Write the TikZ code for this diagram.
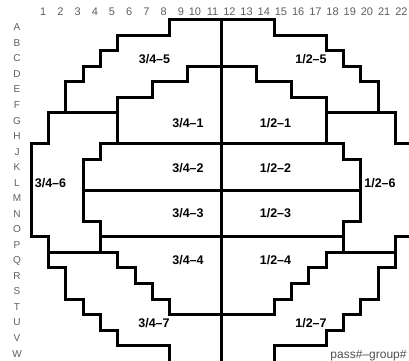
\documentclass[tikz,border=0pt]{standalone}
\usepackage{fontspec}
\setmainfont{Liberation Sans}
\definecolor{lbl}{RGB}{95,95,95}
\definecolor{note}{RGB}{80,80,80}
\begin{document}
\begin{tikzpicture}[x=1pt,y=-1pt,
  wall/.style={line width=3pt, line join=miter, line cap=rect},
  zone/.style={font=\fontsize{12.5}{14}\selectfont\bfseries, inner sep=0pt, anchor=base},
  collbl/.style={font=\fontsize{11}{13}\selectfont, text=lbl, inner sep=0pt, anchor=base east},
  rowlbl/.style={font=\fontsize{10}{12}\selectfont, text=lbl, inner sep=0pt, anchor=base},
  notelbl/.style={font=\fontsize{12}{13}\selectfont, text=note, inner sep=0pt, anchor=base}
]
\useasboundingbox (0,0) rectangle (409,360);
\clip (0,0) rectangle (409,360);
\fill[white] (0,0) rectangle (409,360);

% column labels
\foreach \c in {1,...,22}
  \node[collbl] (col\c) at ({46.5+17.2*(\c-1)},15.8) {\c};
% row labels
\foreach \r [count=\i from 0] in {A,B,C,D,E,F,G,H,J,K,L,M,N,O,P,Q,R,S,T,U,V,W}
  \node[rowlbl] (row\r) at (17,{19.5+15.53*(\i+0.5)+3.6}) {\r};

% walls in grid units
\begin{scope}[shift={(31,19.5)}, x=17.36pt, y=-15.53pt]
  % outer top staircase
  \draw[wall] (2,6) -- (2,4) -- (3,4) -- (3,3) -- (4,3) -- (4,2) -- (5,2) -- (5,1) -- (8,1) -- (8,0)
    -- (14,0) -- (14,1) -- (17,1) -- (17,2) -- (18,2) -- (18,3) -- (19,3) -- (19,4) -- (20,4) -- (20,6);
  \draw[wall] (1,6) -- (5,6);
  \draw[wall] (17,6) -- (21,6);
  % top of zone 1
  \draw[wall] (5,8) -- (5,5) -- (7,5) -- (7,4) -- (9,4) -- (9,3) -- (13,3) -- (13,4) -- (15,4) -- (15,5) -- (17,5) -- (17,8);
  % left outer boundary
  \draw[wall] (1,6) -- (1,8) -- (0,8) -- (0,14) -- (1,14) -- (1,16) -- (2,16) -- (2,18) -- (3,18) -- (3,19)
    -- (4,19) -- (4,20) -- (5,20) -- (5,21) -- (8,21) -- (8,23);
  % right outer boundary
  \draw[wall] (21,6) -- (21,8) -- (22.5,8) -- (22.5,14) -- (21,14) -- (21,16) -- (20,16) -- (20,18) -- (19,18) -- (19,19)
    -- (18,19) -- (18,20) -- (17,20) -- (17,21) -- (14,21) -- (14,23);
  % middle band
  \draw[wall] (4,15) -- (4,13) -- (3,13) -- (3,9) -- (4,9) -- (4,8) -- (18,8) -- (18,9) -- (19,9) -- (19,13) -- (18,13) -- (18,15);
  \draw[wall] (3,11) -- (19,11);
  \draw[wall] (4,14) -- (18,14);
  % bottom of zone 4
  \draw[wall] (1,15) -- (5,15) -- (5,16) -- (6,16) -- (6,17) -- (7,17) -- (7,18) -- (8,18) -- (8,19)
    -- (14,19) -- (14,18) -- (15,18) -- (15,17) -- (16,17) -- (16,16) -- (17,16) -- (17,15) -- (21,15);
  % centre line
  \draw[wall] (11,0) -- (11,23);
\end{scope}

% zone labels
\node[zone] (z35) at (154.5,63.5) {3/4\textendash5};
\node[zone] (z25) at (311,63.5) {1/2\textendash5};
\node[zone] (z31) at (188,127.2) {3/4\textendash1};
\node[zone] (z21) at (275.5,127.2) {1/2\textendash1};
\node[zone] (z32) at (188,172.2) {3/4\textendash2};
\node[zone] (z22) at (275.5,172.2) {1/2\textendash2};
\node[zone] (z33) at (188,217.8) {3/4\textendash3};
\node[zone] (z23) at (275.5,217.8) {1/2\textendash3};
\node[zone] (z34) at (188,264.5) {3/4\textendash4};
\node[zone] (z24) at (275.5,264.5) {1/2\textendash4};
\node[zone] (z37) at (154,327.2) {3/4\textendash7};
\node[zone] (z27) at (311,327.2) {1/2\textendash7};
\node[zone] (z36) at (50.5,187.8) {3/4\textendash6};
\node[zone] (z26) at (380,187.8) {1/2\textendash6};
\node[notelbl] (legend) at (368.5,358) {pass\#\textendash group\#};
\end{tikzpicture}
\end{document}
